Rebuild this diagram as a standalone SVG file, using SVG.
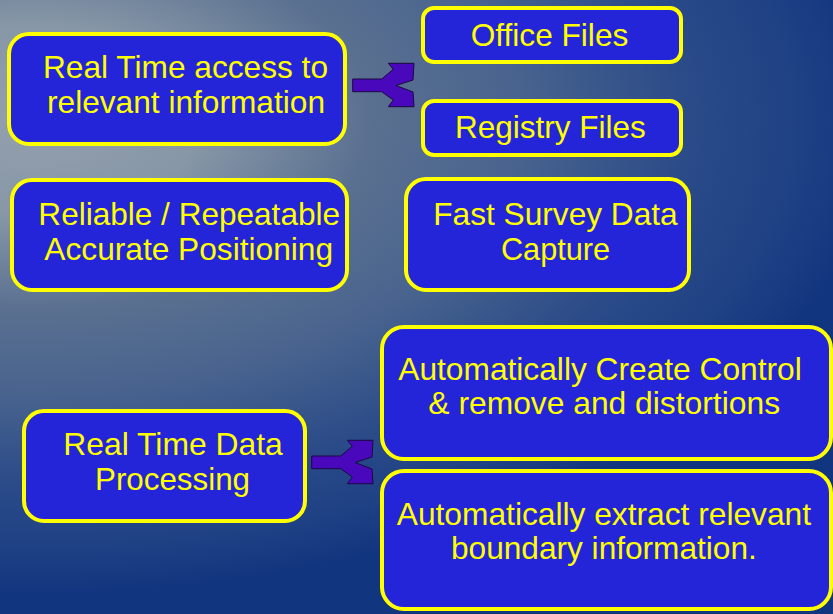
<svg xmlns="http://www.w3.org/2000/svg" xmlns:xlink="http://www.w3.org/1999/xlink" width="833" height="614" viewBox="0 0 833 614">
<defs>
<radialGradient id="bg" gradientUnits="userSpaceOnUse" cx="30" cy="120" r="850" gradientTransform="translate(30 120) scale(1 0.556) translate(-30 -120)">
<stop offset="0" stop-color="#939fad"/>
<stop offset="0.2" stop-color="#8797a7"/>
<stop offset="0.4" stop-color="#5a7090"/>
<stop offset="0.58" stop-color="#48638e"/>
<stop offset="0.78" stop-color="#2a4a88"/>
<stop offset="0.9" stop-color="#1f4285"/>
<stop offset="1" stop-color="#12357f"/>
</radialGradient>
<path id="fork" d="M0,0 H29 L40.6,-9.7 L35.6,-15.7 H61.3 L60.3,1 L43.3,6.5 L60.3,13 L61.3,27.7 H35.6 L40.6,21 L29,12.7 H0 Z"/>
</defs>
<style>
.box{fill:#2424d8;stroke:#ffff00;stroke-width:4}
.t{font-family:"Liberation Sans",Arial,sans-serif;font-size:30.5px;fill:#ffff00;text-anchor:middle}
.arrow{fill:#4a08bc;stroke:#1a0840;stroke-width:1}
</style>
<rect width="833" height="614" fill="url(#bg)"/>
<g id="connectors">
<use xlink:href="#fork" href="#fork" class="arrow" transform="translate(352.7 79)"/>
<use xlink:href="#fork" href="#fork" class="arrow" transform="translate(311.7 456)"/>
</g>
<g id="n1"><rect class="box" x="9" y="34" width="336" height="110" rx="20"/>
<text class="t" x="185.5" y="78" textLength="285" lengthAdjust="spacingAndGlyphs">Real Time access to</text>
<text class="t" x="186" y="113" textLength="278" lengthAdjust="spacingAndGlyphs">relevant information</text></g>
<g id="n2"><rect class="box" x="423" y="8" width="258" height="54" rx="11"/>
<text class="t" x="549.5" y="46" textLength="157.6" lengthAdjust="spacingAndGlyphs">Office Files</text></g>
<g id="n3"><rect class="box" x="423" y="101" width="258" height="54" rx="11"/>
<text class="t" x="550.3" y="138" textLength="190.7" lengthAdjust="spacingAndGlyphs">Registry Files</text></g>
<g id="n4"><rect class="box" x="12" y="180" width="335" height="110" rx="20"/>
<text class="t" x="189.2" y="225" textLength="301.7" lengthAdjust="spacingAndGlyphs">Reliable / Repeatable</text>
<text class="t" x="188.7" y="260" textLength="288.7" lengthAdjust="spacingAndGlyphs">Accurate Positioning</text></g>
<g id="n5"><rect class="box" x="406" y="179" width="283" height="111" rx="20"/>
<text class="t" x="555.5" y="225" textLength="244.4" lengthAdjust="spacingAndGlyphs">Fast Survey Data</text>
<text class="t" x="555.5" y="260" textLength="109" lengthAdjust="spacingAndGlyphs">Capture</text></g>
<g id="n6"><rect class="box" x="24" y="411" width="281" height="110" rx="20"/>
<text class="t" x="173" y="455" textLength="219.4" lengthAdjust="spacingAndGlyphs">Real Time Data</text>
<text class="t" x="172.5" y="490" textLength="155" lengthAdjust="spacingAndGlyphs">Processing</text></g>
<g id="n7"><rect class="box" x="382" y="327" width="449" height="132" rx="22"/>
<text class="t" x="600" y="380" textLength="403.4" lengthAdjust="spacingAndGlyphs">Automatically Create Control</text>
<text class="t" x="604.2" y="414" textLength="351.7" lengthAdjust="spacingAndGlyphs">&amp; remove and distortions</text></g>
<g id="n8"><rect class="box" x="382" y="471" width="449" height="138" rx="22"/>
<text class="t" x="603.9" y="525" textLength="414.3" lengthAdjust="spacingAndGlyphs">Automatically extract relevant</text>
<text class="t" x="603.9" y="559" textLength="305.7" lengthAdjust="spacingAndGlyphs">boundary information.</text></g>
</svg>
